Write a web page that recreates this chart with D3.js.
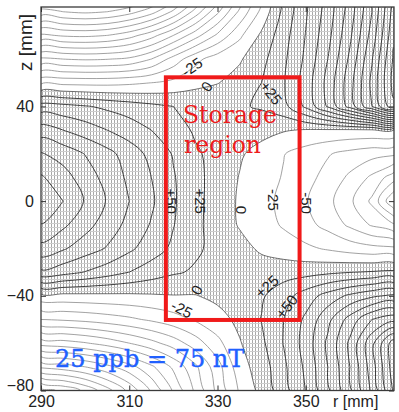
<!DOCTYPE html>
<html>
<head>
<meta charset="utf-8">
<script src="https://cdn.jsdelivr.net/npm/d3@7"></script>
<style>
  html, body { margin: 0; padding: 0; background: #fff; }
  svg { display: block; }
  .tick text { font-family: "Liberation Sans", Arial, sans-serif; font-size: 16px; fill: #222; }
</style>
</head>
<body>
<svg id="chart" width="399" height="412"></svg>
<script>
// field deviation map (ppb) on a 5 mm x 10 mm grid
const rGrid = [290, 295, 300, 305, 310, 315, 320, 325, 330, 335, 340, 345, 350, 355, 360, 365, 370];
const zGrid = [90, 80, 70, 60, 50, 40, 30, 20, 10, 0, -10, -20, -30, -40, -50, -60, -70, -80];
const fieldRows = [
  [-400, -410, -415, -410, -395, -365, -320, -260, -190, -110, -40, 25, 68, 105, 155, 215, 300],   // z = 90
  [-315, -325, -330, -325, -310, -285, -245, -190, -130, -70, -18, 32, 72, 111, 162, 225, 312],    // z = 80
  [-220, -228, -230, -225, -210, -185, -150, -110, -70, -30, 5, 40, 76, 117, 170, 235, 320],       // z = 70
  [-120, -125, -128, -126, -120, -100, -65, -32, -12, -3, 18, 45, 80, 125, 180, 248, 330],         // z = 60
  [-30, -32, -33, -33, -30, -25, -18, -8, -1, 10, 25, 48, 86, 133, 190, 256, 335],                 // z = 50
  [62, 58, 52, 45, 38, 31, 25, 21, 20, 22, 28, 42, 80, 128, 185, 250, 320],                        // z = 40
  [112, 100, 88, 75, 63, 50, 35, 22, 16, 13, 8, 2, -2, -3, -4, -3, -2],                            // z = 30
  [152, 140, 124, 108, 88, 68, 48, 28, 18, 3, -9, -24, -36, -48, -58, -66, -70],                   // z = 20
  [178, 160, 138, 116, 95, 75, 52, 32, 15, -1, -13, -27, -42, -58, -80, -105, -140],               // z = 10
  [199, 175, 148, 123, 100, 79, 53, 32, 14, -3, -16, -32, -48, -68, -95, -130, -200],              // z = 0
  [174, 155, 134, 113, 93, 73, 51, 31, 14, -2, -14, -28, -42, -58, -80, -103, -122],               // z = -10
  [142, 128, 112, 98, 80, 62, 45, 29, 18, 8, -4, -12, -20, -28, -36, -42, -45],                    // z = -20
  [95, 85, 74, 62, 50, 38, 28, 22, 18, 16, 12, 14, 16, 20, 24, 27, 30],                            // z = -30
  [-8, -8, -7, -6, -5, -3, -1, -1, 6, 14, 22, 40, 62, 85, 105, 120, 130],                          // z = -40
  [-75, -72, -68, -62, -55, -46, -35, -22, -9, 6, 26, 50, 80, 118, 160, 200, 216],                 // z = -50
  [-165, -160, -152, -140, -125, -108, -88, -62, -32, -2, 20, 51, 85, 130, 180, 243, 315],         // z = -60
  [-270, -262, -250, -232, -210, -180, -145, -105, -60, -10, 12, 45, 80, 125, 175, 238, 315],      // z = -70
  [-385, -370, -345, -310, -268, -222, -172, -120, -68, -22, 8, 40, 76, 120, 170, 230, 305]        // z = -80
];
const levelStep = 25;
const rTicks = [290, 310, 330, 350];
const zTicks = [-80, -40, 0, 40];

// contour labels: text, r, z, angle
const labelText = ['-25', '0', '+25', '+50', '+25', '0', '-25', '-50', '0', '-25', '+25', '+50'];
const labelR = [324.2, 327.6, 342.1, 319.5, 326.0, 335.3, 342.6, 350.2, 325.3, 321.9, 341.2, 345.7];
const labelZ = [56.6, 48.4, 45.7, 0.0, 0.0, -3.7, 0.5, -0.8, -37.5, -45.7, -36.1, -44.6];
const labelAngle = [-35, -55, 52, 90, 90, 90, 90, 90, -60, 27, -42, -52];

// storage region box (r, z in mm)
const storageR = [318.3, 348.6];
const storageZ = [-50.2, 52.3];

const svg = d3.select('#chart');
const x = d3.scaleLinear().domain([290, 370]).range([41, 394]);
const y = d3.scaleLinear().domain([-80, 82]).range([390.5, 7]);

const nx = rGrid.length, ny = zGrid.length;
const values = fieldRows.flat();

// d3.contours puts sample i at grid coordinate i + 0.5
const gx = d3.scaleLinear().domain([0.5, nx - 0.5]).range([x(rGrid[0]), x(rGrid[nx - 1])]);
const gy = d3.scaleLinear().domain([0.5, ny - 0.5]).range([y(zGrid[0]), y(zGrid[ny - 1])]);

const ringLine = d3.line()
  .x(d => gx(d[0]))
  .y(d => gy(d[1]))
  .curve(d3.curveCatmullRomClosed.alpha(0.5));

function contourPath(geom) {
  return geom.coordinates
    .map(poly => poly.map(ring => ringLine(ring.slice(0, -1))).join(''))
    .join('');
}

const defs = svg.append('defs');
defs.append('clipPath').attr('id', 'plotClip')
  .append('rect')
  .attr('x', x(290)).attr('y', y(82))
  .attr('width', x(370) - x(290)).attr('height', y(-80) - y(82));

// fine dotted mesh used for the positive region
const hatch = defs.append('pattern')
  .attr('id', 'hatch')
  .attr('patternUnits', 'userSpaceOnUse')
  .attr('width', 3).attr('height', 4);
hatch.append('rect').attr('x', 0).attr('y', 0).attr('width', 1).attr('height', 3).attr('fill', '#a9a9a9');
hatch.append('rect').attr('x', 0).attr('y', 3).attr('width', 3).attr('height', 1).attr('fill', '#cdcdcd');

const plot = svg.append('g').attr('clip-path', 'url(#plotClip)');

// shade positive region
const positive = d3.contours().size([nx, ny]).thresholds([0])(values)[0];
plot.append('path')
  .attr('d', contourPath(positive))
  .attr('fill', 'url(#hatch)')
  .attr('fill-rule', 'evenodd');

// contour lines every 25 ppb
const levels = d3.range(-17, 18).map(k => k * levelStep);
const contours = d3.contours().size([nx, ny]).thresholds(levels)(values);

plot.selectAll('path.iso')
  .data(contours)
  .join('path')
  .attr('class', 'iso')
  .attr('d', contourPath)
  .attr('fill', 'none')
  .attr('stroke', d => d.value > 0 ? '#2e2e2e' : (d.value === 0 ? '#4a4a4a' : '#8a8a8a'))
  .attr('stroke-width', d => d.value > 0 ? 0.9 : 0.8);

// contour labels
plot.selectAll('text.lbl')
  .data(labelText)
  .join('text')
  .attr('class', 'lbl')
  .attr('transform', (d, i) => `translate(${x(labelR[i])},${y(labelZ[i])}) rotate(${labelAngle[i]})`)
  .attr('text-anchor', 'middle')
  .attr('dy', '0.35em')
  .style('font-family', '"Liberation Sans", Arial, sans-serif')
  .style('font-size', '15px')
  .style('fill', '#222')
  .text(d => d);

// frame
svg.append('rect')
  .attr('x', x(290)).attr('y', y(82))
  .attr('width', x(370) - x(290)).attr('height', y(-80) - y(82))
  .attr('fill', 'none')
  .attr('stroke', '#3a3a3a')
  .attr('stroke-width', 1.3);

// axes with inward ticks
svg.append('g')
  .attr('transform', `translate(0,${y(-80)})`)
  .call(d3.axisBottom(x).tickValues(rTicks).tickSize(-5).tickPadding(5.5));
svg.append('g')
  .attr('transform', `translate(0,${y(82)})`)
  .call(d3.axisTop(x).tickValues(rTicks).tickSize(-5).tickFormat(''));
const yAxis = svg.append('g')
  .attr('transform', `translate(${x(290)},0)`)
  .call(d3.axisLeft(y).tickValues(zTicks).tickSize(-5).tickPadding(7));
svg.append('g')
  .attr('transform', `translate(${x(370)},0)`)
  .call(d3.axisRight(y).tickValues(zTicks).tickSize(-5).tickFormat(''));

svg.selectAll('.domain').remove();
svg.selectAll('.tick line').attr('stroke', '#333').attr('stroke-width', 1);
yAxis.selectAll('.tick').filter(d => d === -80).select('text').attr('dy', '0.0em');

// axis titles
svg.append('text')
  .attr('x', 333).attr('y', 407)
  .style('font-family', '"Liberation Sans", Arial, sans-serif')
  .style('font-size', '16px')
  .style('fill', '#222')
  .text('r [mm]');

svg.append('text')
  .attr('transform', 'translate(32,71) rotate(-90)')
  .style('font-family', '"Liberation Sans", Arial, sans-serif')
  .style('font-size', '19px')
  .style('fill', '#222')
  .text('z [mm]');

// storage region
svg.append('rect')
  .attr('x', x(storageR[0])).attr('y', y(storageZ[1]))
  .attr('width', x(storageR[1]) - x(storageR[0]))
  .attr('height', y(storageZ[0]) - y(storageZ[1]))
  .attr('fill', 'none')
  .attr('stroke', '#f01a1a')
  .attr('stroke-width', 4);

svg.append('text')
  .attr('x', 183).attr('y', 123)
  .style('font-family', '"DejaVu Serif", serif')
  .style('font-size', '23.5px')
  .style('fill', '#ee1c1c')
  .text('Storage');
svg.append('text')
  .attr('x', 184).attr('y', 153)
  .style('font-family', '"DejaVu Serif", serif')
  .style('font-size', '23.5px')
  .style('fill', '#ee1c1c')
  .text('region');

svg.append('text')
  .attr('x', 55).attr('y', 367)
  .style('font-family', '"DejaVu Serif", serif')
  .style('font-size', '24px')
  .style('fill', '#2060ff')
  .style('stroke', '#2060ff')
  .style('stroke-width', 0.4)
  .text('25 ppb = 75 nT');
</script>
</body>
</html>
